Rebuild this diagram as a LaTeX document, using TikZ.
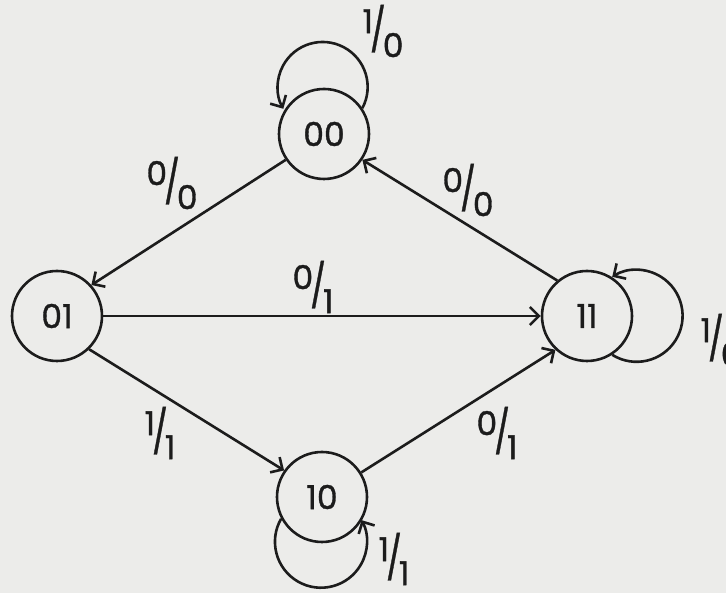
\documentclass[tikz,border=0pt]{standalone}
\usepackage{fontspec}
\setmainfont{Poppins}
\usetikzlibrary{arrows.meta, positioning}
\definecolor{scangray}{RGB}{236,236,234}
\definecolor{inkblack}{RGB}{28,28,28}
\newcommand{\io}[2]{\raisebox{12pt}{#1}\kern-3pt\scalebox{1}[1.3]{/}\kern-3pt\raisebox{-12pt}{#2}}

\begin{document}
\begin{tikzpicture}[x=1pt, y=1pt,
  fsm/.style={circle, draw=inkblack, line width=2.6pt, minimum size=90pt, inner sep=0pt, text=inkblack, font=\fontsize{33}{38}\selectfont\addfontfeatures{FakeBold=1}},
  trans/.style={draw=inkblack, line width=2.6pt, -{Straight Barb[length=9pt, width=18pt]}},
  lbl/.style={inner sep=0pt, text=inkblack, font=\fontsize{33}{38}\selectfont\addfontfeatures{FakeBold=1}}]
  \fill[scangray] (0,0) rectangle (726,593);
  \useasboundingbox (0,0) rectangle (726,593);

  \node[fsm] (oo) at (324,459) {00};
  \node[fsm] (oi) at (57,277) {01};
  \node[fsm] (ii) at (587,277) {11};
  \node[fsm] (io) at (322,96) {10};

  \draw[trans] (oo.214) -- (oi.42);
  \draw[trans] (ii.130) -- (oo.326);
  \draw[trans] (oi.east) -- (ii.west);
  \draw[trans] (oi.-46) -- (io.145);
  \draw[trans] (io.32) -- (ii.227);

  \draw[trans] (oo.34) arc[start angle=-28, end angle=209, radius=45];
  \draw[trans] (ii.-57) arc[start angle=-122, end angle=122, radius=46];
  \draw[trans] (io.208) arc[start angle=150, end angle=388, radius=46];

  \node[lbl] (l-oo) at (383,562) {\io{1}{0}};
  \node[lbl] (l-oooi) at (172,410) {\io{0}{0}};
  \node[lbl] (l-iioo) at (468,403) {\io{0}{0}};
  \node[lbl] (l-oiii) at (313,306) {\io{0}{1}};
  \node[lbl] (l-oiio) at (160,160) {\io{1}{1}};
  \node[lbl] (l-ioii) at (497,160) {\io{0}{1}};
  \node[lbl] (l-io) at (394,34) {\io{1}{1}};
  \node[lbl] (l-ii) at (721,253) {\io{1}{0}};
\end{tikzpicture}
\end{document}
